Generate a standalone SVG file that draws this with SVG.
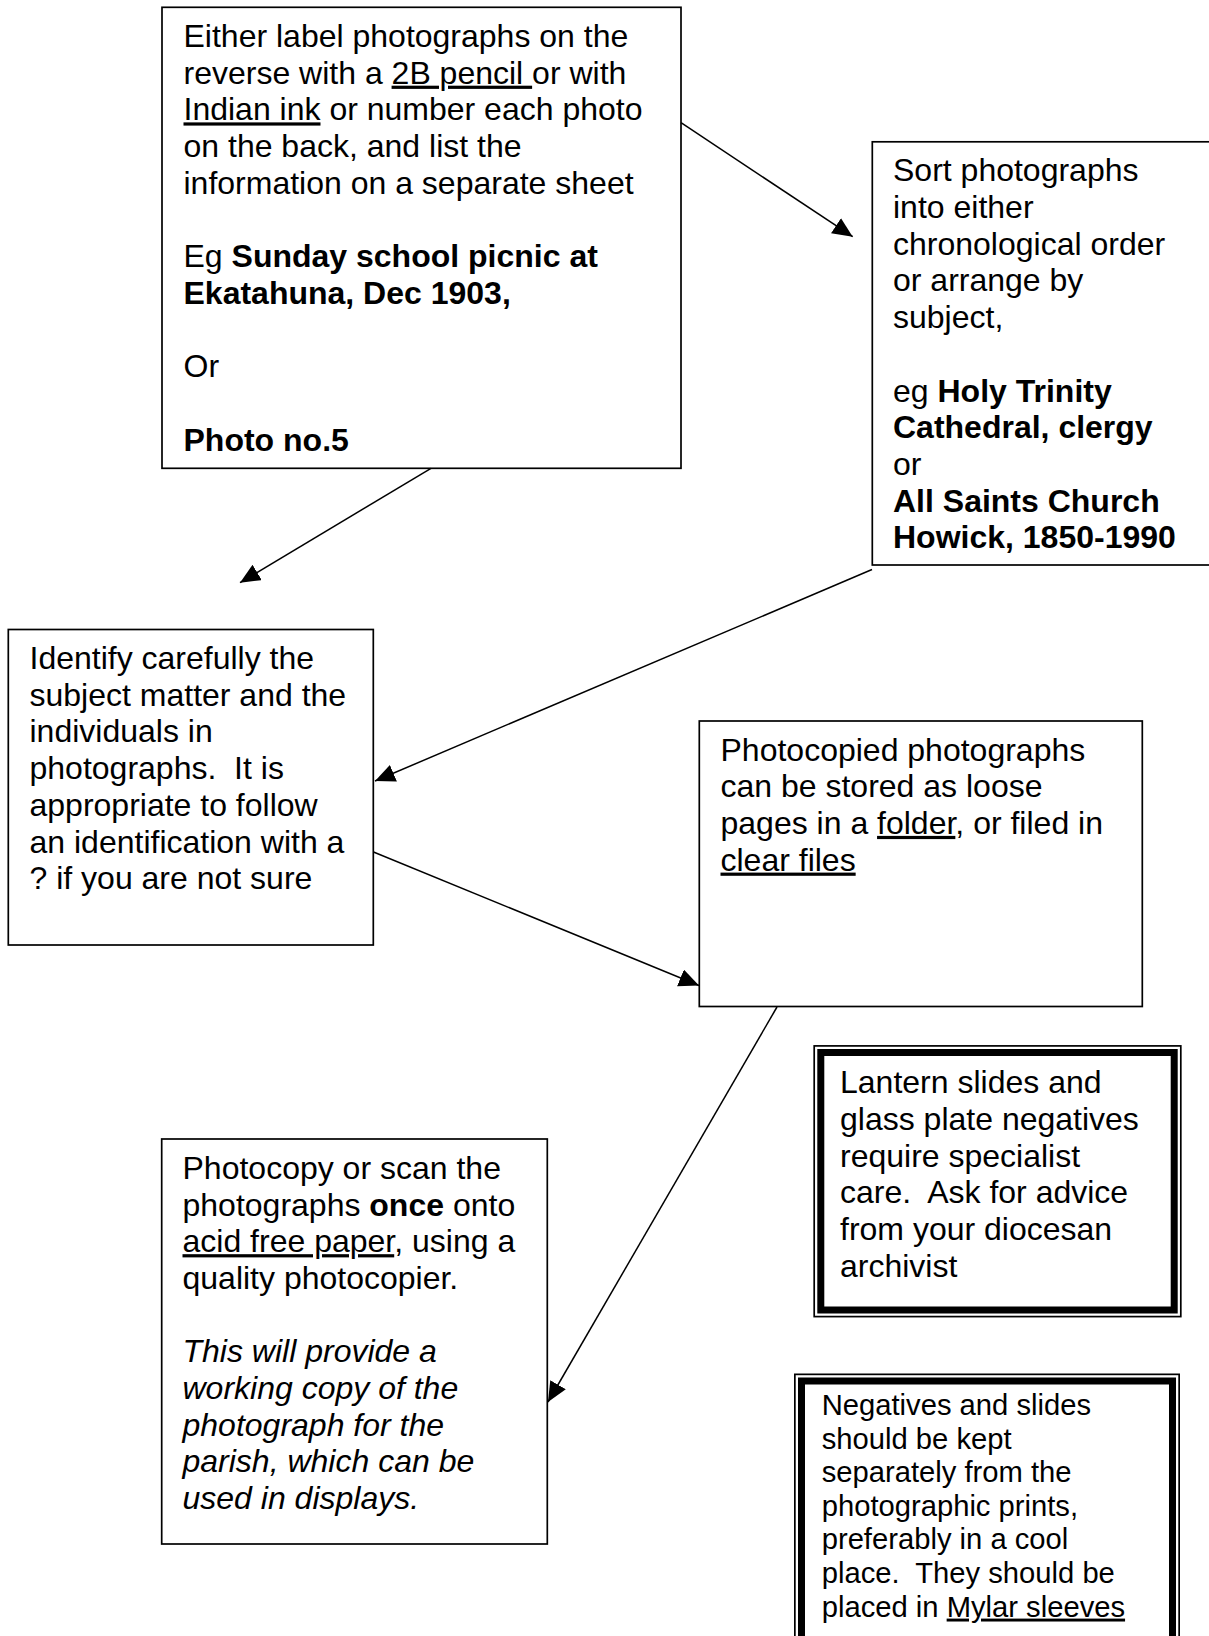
<svg xmlns="http://www.w3.org/2000/svg" width="1209" height="1636" viewBox="0 0 1209 1636">
<style>
.box{fill:#fff;stroke:#000;stroke-width:1.7}
.thin{fill:#fff;stroke:#000;stroke-width:1.7}
.thick{fill:none;stroke:#000;stroke-width:7}
text{font-family:"Liberation Sans",Arial,sans-serif;font-size:32px;fill:#000}
.s{font-size:29.2px}
.b{font-weight:bold}
.i{font-style:italic}
.u{text-decoration:underline}
.conn{stroke:#000;stroke-width:1.5;fill:none;marker-end:url(#ah)}
</style>
<defs>
<marker id="ah" markerUnits="userSpaceOnUse" markerWidth="22" markerHeight="20" refX="20" refY="9" orient="auto"><path d="M0,0 L20,9 L0,18 z" fill="#000"/></marker>
</defs>
<rect width="1209" height="1636" fill="#fff"/>

<g id="n1">
<rect class="box" x="162" y="7.3" width="519" height="461"/>
<text x="183.5" y="47">Either label photographs on the</text>
<text x="183.5" y="83.7">reverse with a <tspan class="u">2B pencil </tspan>or with</text>
<text x="183.5" y="120.4"><tspan class="u">Indian ink</tspan> or number each photo</text>
<text x="183.5" y="157.1">on the back, and list the</text>
<text x="183.5" y="193.8">information on a separate sheet</text>
<text x="183.5" y="267.2">Eg <tspan class="b">Sunday school picnic at</tspan></text>
<text x="183.5" y="303.9" class="b">Ekatahuna, Dec 1903,</text>
<text x="183.5" y="377.3">Or</text>
<text x="183.5" y="450.7" class="b">Photo no.5</text>
</g>

<g id="n2">
<rect class="box" x="872.3" y="141.8" width="400" height="423.2"/>
<text x="893" y="181.3">Sort photographs</text>
<text x="893" y="218">into either</text>
<text x="893" y="254.7">chronological order</text>
<text x="893" y="291.4">or arrange by</text>
<text x="893" y="328.1">subject,</text>
<text x="893" y="401.5">eg <tspan class="b">Holy Trinity</tspan></text>
<text x="893" y="438.2" class="b">Cathedral, clergy</text>
<text x="893" y="474.9">or</text>
<text x="893" y="511.6" class="b">All Saints Church</text>
<text x="893" y="548.3" class="b">Howick, 1850-1990</text>
</g>

<g id="n3">
<rect class="box" x="8.3" y="629.5" width="365" height="315.5"/>
<text x="29.5" y="669">Identify carefully the</text>
<text x="29.5" y="705.7">subject matter and the</text>
<text x="29.5" y="742.4">individuals in</text>
<text x="29.5" y="779.1" xml:space="preserve">photographs.  It is</text>
<text x="29.5" y="815.8">appropriate to follow</text>
<text x="29.5" y="852.5">an identification with a</text>
<text x="29.5" y="889.2">? if you are not sure</text>
</g>

<g id="n4">
<rect class="box" x="699.3" y="721" width="443" height="285.5"/>
<text x="720.5" y="760.5">Photocopied photographs</text>
<text x="720.5" y="797.2">can be stored as loose</text>
<text x="720.5" y="833.9">pages in a <tspan class="u">folder</tspan>, or filed in</text>
<text x="720.5" y="870.6"><tspan class="u">clear files</tspan></text>
</g>

<g id="n5">
<rect class="thin" x="814.2" y="1045.9" width="366.6" height="270.7"/>
<rect class="thick" x="820.8" y="1052.5" width="353.4" height="257.5"/>
<text x="840" y="1093.3">Lantern slides and</text>
<text x="840" y="1130">glass plate negatives</text>
<text x="840" y="1166.7">require specialist</text>
<text x="840" y="1203.4" xml:space="preserve">care.  Ask for advice</text>
<text x="840" y="1240.1">from your diocesan</text>
<text x="840" y="1276.8">archivist</text>
</g>

<g id="n6">
<rect class="thin" x="794.85" y="1374.35" width="384.3" height="300"/>
<rect class="thick" x="801.5" y="1381" width="371" height="300"/>
<text class="s" x="821.7" y="1415">Negatives and slides</text>
<text class="s" x="821.7" y="1448.6">should be kept</text>
<text class="s" x="821.7" y="1482.2">separately from the</text>
<text class="s" x="821.7" y="1515.8">photographic prints,</text>
<text class="s" x="821.7" y="1549.4">preferably in a cool</text>
<text class="s" x="821.7" y="1583" xml:space="preserve">place.  They should be</text>
<text class="s" x="821.7" y="1616.6">placed in <tspan class="u">Mylar sleeves</tspan></text>
</g>

<g id="n7">
<rect class="box" x="161.7" y="1139" width="385.6" height="405"/>
<text x="182.5" y="1178.8">Photocopy or scan the</text>
<text x="182.5" y="1215.5">photographs <tspan class="b">once</tspan> onto</text>
<text x="182.5" y="1252.2"><tspan class="u">acid free paper</tspan>, using a</text>
<text x="182.5" y="1288.9">quality photocopier.</text>
<text x="182.5" y="1362.3" class="i">This will provide a</text>
<text x="182.5" y="1399" class="i">working copy of the</text>
<text x="182.5" y="1435.7" class="i">photograph for the</text>
<text x="182.5" y="1472.4" class="i">parish, which can be</text>
<text x="182.5" y="1509.1" class="i">used in displays.</text>
</g>

<g id="connectors">
<line class="conn" x1="681" y1="122.7" x2="852.7" y2="236.7"/>
<line class="conn" x1="431" y1="468.3" x2="240" y2="582.7"/>
<line class="conn" x1="872" y1="569.5" x2="375" y2="781"/>
<line class="conn" x1="373.5" y1="852" x2="699" y2="985.5"/>
<line class="conn" x1="777" y1="1007" x2="548" y2="1402"/>
</g>
</svg>
